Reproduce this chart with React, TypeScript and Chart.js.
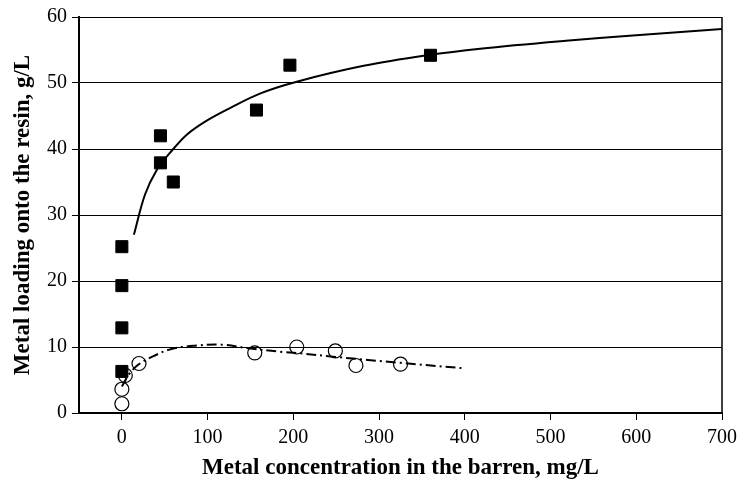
import React, { useEffect, useRef } from "react";
import { Chart, registerables } from "chart.js";

Chart.register(...registerables);

// Filled squares
const squareX = [0, 0, 0, 0, 45, 45, 60, 157, 196, 360];
const squareY = [6.3, 12.9, 19.3, 25.2, 37.9, 42.0, 35.0, 45.9, 52.7, 54.2];

// Open circles
const circleX = [0, 0, 4, 20, 155, 204, 249, 273, 325];
const circleY = [1.4, 3.6, 5.7, 7.5, 9.1, 10.0, 9.4, 7.2, 7.4];

// Solid trend curve
const solidX = [14, 27, 41, 56, 76, 99, 126, 161, 204, 282, 356, 418, 518, 596, 700];
const solidY = [27.0, 33.1, 36.9, 39.4, 42.2, 44.3, 46.2, 48.4, 50.2, 52.6, 54.2, 55.2, 56.4, 57.2, 58.2];

// Dash-dot trend curve
const dashX = [0, 8, 19, 35, 58, 85, 117, 148, 187, 204, 249, 325, 396];
const dashY = [4.0, 5.8, 7.3, 8.5, 9.7, 10.2, 10.35, 9.8, 9.25, 9.1, 8.5, 7.6, 6.8];

const xTicks = [0, 100, 200, 300, 400, 500, 600, 700];
const yTicks = [0, 10, 20, 30, 40, 50, 60];

const xTitle = "Metal concentration in the barren, mg/L";
const yTitle = "Metal loading onto the resin, g/L";

const FONT = "'Liberation Serif', 'Times New Roman', Times, serif";

const zip = (xs: number[], ys: number[]) => xs.map((x, i) => ({ x, y: ys[i] }));

const rightBorder = {
  id: "rightBorder",
  afterDraw(chart: any) {
    const { ctx, chartArea } = chart;
    ctx.save();
    ctx.strokeStyle = "#000";
    ctx.lineWidth = 1.5;
    ctx.beginPath();
    ctx.moveTo(chartArea.right, chartArea.top);
    ctx.lineTo(chartArea.right, chartArea.bottom);
    ctx.stroke();
    ctx.restore();
  },
};

export default function App() {
  const ref = useRef<HTMLCanvasElement | null>(null);

  useEffect(() => {
    document.body.style.margin = "0";
    if (!ref.current) return;
    const chart = new Chart(ref.current, {
      type: "scatter",
      data: {
        datasets: [
          {
            label: "squares",
            data: zip(squareX, squareY),
            pointStyle: "rect",
            pointRadius: 8.5,
            backgroundColor: "#000",
            borderColor: "#000",
            borderWidth: 1,
            showLine: false,
            order: 2,
          },
          {
            label: "circles",
            data: zip(circleX, circleY),
            pointStyle: "circle",
            pointRadius: 7,
            backgroundColor: "rgba(255,255,255,0)",
            borderColor: "#000",
            borderWidth: 1.2,
            showLine: false,
            order: 2,
          },
          {
            label: "solid",
            data: zip(solidX, solidY),
            showLine: true,
            pointRadius: 0,
            borderColor: "#000",
            borderWidth: 2,
            tension: 0.35,
            fill: false,
            order: 1,
          },
          {
            label: "dashdot",
            data: zip(dashX, dashY),
            showLine: true,
            pointRadius: 0,
            borderColor: "#000",
            borderWidth: 2,
            borderDash: [10, 4, 2, 4],
            tension: 0.35,
            fill: false,
            order: 1,
          },
        ],
      },
      options: {
        responsive: false,
        animation: false,
        devicePixelRatio: 1,
        layout: { autoPadding: false, padding: { top: 17, right: 18, left: 0, bottom: 0 } },
        plugins: {
          legend: { display: false },
          tooltip: { enabled: false },
        },
        scales: {
          x: {
            type: "linear",
            min: -50,
            max: 700,
            afterBuildTicks: (s: any) => {
              s.ticks = xTicks.map((v) => ({ value: v }));
            },
            afterFit: (s: any) => {
              s.height = 74;
              s.paddingLeft = 0;
              s.paddingRight = 0;
            },
            grid: {
              drawOnChartArea: false,
              drawTicks: true,
              tickLength: 7,
              color: "#000",
              lineWidth: 1,
            },
            border: { display: true, color: "#000", width: 2 },
            ticks: {
              color: "#000",
              font: { family: FONT, size: 20 },
              padding: 6,
              maxRotation: 0,
            },
            title: {
              display: true,
              text: xTitle,
              color: "#000",
              font: { family: FONT, size: 23, weight: "bold" },
              padding: { top: 0, bottom: 5 },
            },
          },
          y: {
            type: "linear",
            min: 0,
            max: 60,
            afterBuildTicks: (s: any) => {
              s.ticks = yTicks.map((v) => ({ value: v }));
            },
            afterFit: (s: any) => {
              s.width = 79;
              s.paddingTop = 0;
              s.paddingBottom = 0;
            },
            grid: {
              drawOnChartArea: true,
              drawTicks: true,
              tickLength: 7,
              color: "#000",
              lineWidth: 1,
            },
            border: { display: true, color: "#000", width: 2 },
            ticks: {
              color: "#000",
              font: { family: FONT, size: 20 },
              padding: 5,
            },
            title: {
              display: true,
              text: yTitle,
              color: "#000",
              font: { family: FONT, size: 23, weight: "bold" },
              padding: { top: 9, bottom: 0 },
            },
          },
        },
      },
      plugins: [rightBorder],
    } as any);
    return () => chart.destroy();
  }, []);

  return (
    <div style={{ position: "absolute", left: 0, top: 0, width: 740, height: 487, background: "#fff" }}>
      <canvas ref={ref} width={740} height={487} />
    </div>
  );
}
